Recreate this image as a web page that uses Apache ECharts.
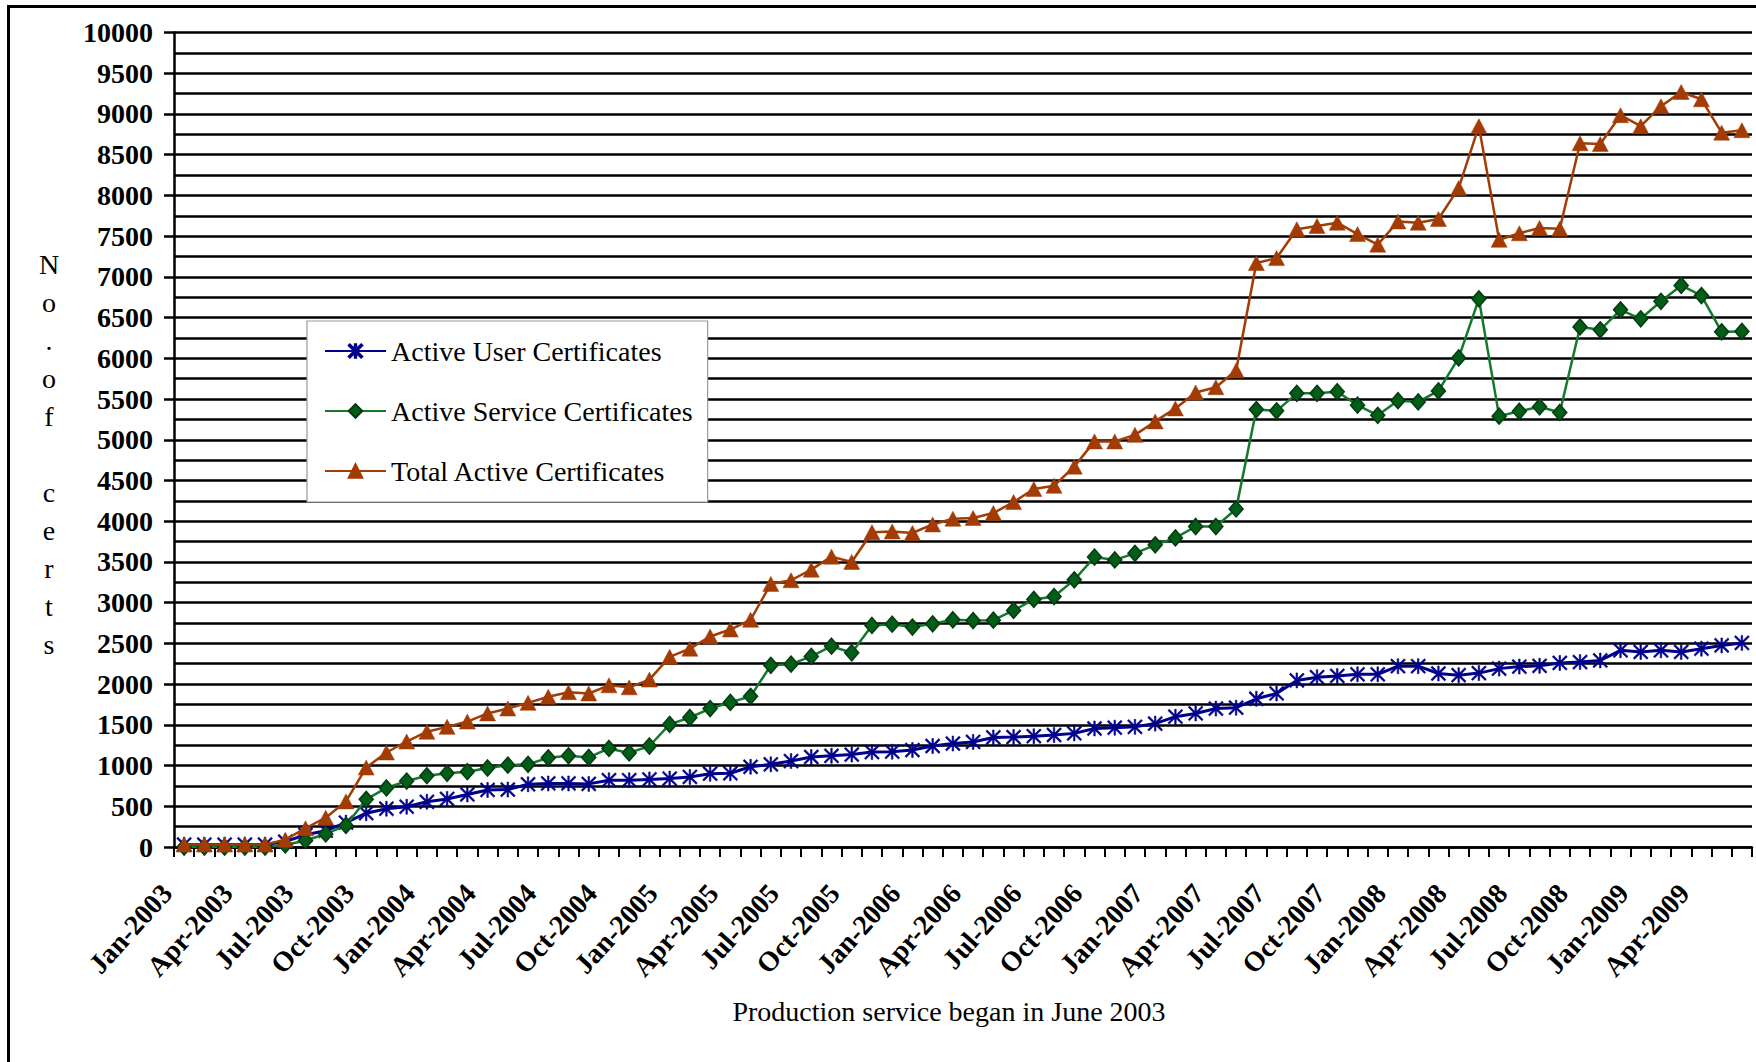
<!DOCTYPE html>
<html>
<head>
<meta charset="utf-8">
<title>Active certificates</title>
<script src="https://cdn.jsdelivr.net/npm/echarts@6/dist/echarts.min.js"></script>
<style>
  html, body { margin: 0; padding: 0; background: #ffffff; }
  #chart { width: 1756px; height: 1062px; }
</style>
</head>
<body>
<div id="chart"></div>
<script>
// Monthly counts, Jan-2003 .. Jun-2009
const months = [
  'Jan-2003','Feb-2003','Mar-2003','Apr-2003','May-2003','Jun-2003','Jul-2003','Aug-2003','Sep-2003','Oct-2003','Nov-2003','Dec-2003',
  'Jan-2004','Feb-2004','Mar-2004','Apr-2004','May-2004','Jun-2004','Jul-2004','Aug-2004','Sep-2004','Oct-2004','Nov-2004','Dec-2004',
  'Jan-2005','Feb-2005','Mar-2005','Apr-2005','May-2005','Jun-2005','Jul-2005','Aug-2005','Sep-2005','Oct-2005','Nov-2005','Dec-2005',
  'Jan-2006','Feb-2006','Mar-2006','Apr-2006','May-2006','Jun-2006','Jul-2006','Aug-2006','Sep-2006','Oct-2006','Nov-2006','Dec-2006',
  'Jan-2007','Feb-2007','Mar-2007','Apr-2007','May-2007','Jun-2007','Jul-2007','Aug-2007','Sep-2007','Oct-2007','Nov-2007','Dec-2007',
  'Jan-2008','Feb-2008','Mar-2008','Apr-2008','May-2008','Jun-2008','Jul-2008','Aug-2008','Sep-2008','Oct-2008','Nov-2008','Dec-2008',
  'Jan-2009','Feb-2009','Mar-2009','Apr-2009','May-2009','Jun-2009'
];

const userCerts = [
  30, 30, 30, 30, 30, 65, 150, 200, 300, 415, 470, 495,
  555, 590, 645, 700, 705, 770, 780, 780, 775, 820, 820, 830,
  840, 860, 900, 905, 985, 1015, 1055, 1105, 1120, 1135, 1165, 1170,
  1190, 1240, 1270, 1290, 1345, 1350, 1360, 1375, 1395, 1455, 1465, 1475,
  1515, 1600, 1640, 1700, 1710, 1820, 1885, 2045, 2085, 2100, 2120, 2120,
  2220, 2220, 2130, 2110, 2135, 2190, 2215, 2225, 2260, 2270, 2290, 2415,
  2395, 2415, 2395, 2435, 2475, 2505
];

const serviceCerts = [
  0, 0, 0, 0, 0, 25, 80, 160, 265, 585, 725, 810,
  875, 905, 925, 970, 1005, 1015, 1095, 1120, 1100, 1210, 1155, 1240,
  1505, 1590, 1700, 1775, 1850, 2230, 2245, 2340, 2465, 2385, 2720, 2735,
  2700, 2740, 2790, 2780, 2785, 2905, 3040, 3075, 3280, 3560, 3525, 3605,
  3710, 3795, 3935, 3935, 4150, 5370, 5355, 5570, 5570, 5590, 5425, 5300,
  5480, 5465, 5600, 6005, 6730, 5290, 5350, 5405, 5335, 6385, 6350, 6595,
  6485, 6700, 6895, 6770, 6325, 6330
];

const totalCerts = [
  30, 30, 30, 30, 30, 90, 230, 360, 560, 975, 1160, 1295,
  1415, 1475, 1540, 1640, 1700, 1770, 1845, 1900, 1885, 1985, 1960, 2055,
  2335, 2435, 2585, 2670, 2790, 3230, 3275, 3405, 3565, 3500, 3865, 3875,
  3855, 3960, 4030, 4040, 4100, 4235, 4395, 4435, 4670, 4980, 4980, 5060,
  5225, 5385, 5580, 5645, 5850, 7170, 7230, 7585, 7625, 7665, 7525, 7395,
  7680, 7665, 7710, 8090, 8850, 7455, 7535, 7600, 7590, 8640, 8630, 8985,
  8850, 9095, 9270, 9180, 8770, 8800
];

const seriesNames = ['Active User Certificates', 'Active Service Certificates', 'Total Active Certificates'];
const yAxisTitle = 'N\no\n.\no\nf\n\nc\ne\nr\nt\ns';
const xAxisTitle = 'Production service began in June 2003';

const SERIF = '"Liberation Serif", "Times New Roman", "DejaVu Serif", serif';

// asterisk marker: vertical bar plus two diagonals
const asterisk = 'path://M9 0L11 0L11 20L9 20Z' +
  'M0.15 1.85L1.85 0.15L19.85 18.15L18.15 19.85Z' +
  'M18.15 0.15L19.85 1.85L1.85 19.85L0.15 18.15Z';

const chart = echarts.init(document.getElementById('chart'), null, { renderer: 'svg' });

chart.setOption({
  backgroundColor: '#ffffff',
  animation: false,
  textStyle: { fontFamily: SERIF, color: '#000' },
  graphic: [
    {
      // outer frame of the figure
      type: 'rect',
      z: -10,
      silent: true,
      shape: { x: 8.5, y: 6.5, width: 1800, height: 1100 },
      style: { fill: 'none', stroke: '#000', lineWidth: 3 }
    },
    {
      // stacked y-axis title
      type: 'text',
      silent: true,
      x: 49,
      y: 454,
      style: {
        text: yAxisTitle,
        fontFamily: SERIF,
        fontSize: 28,
        lineHeight: 38,
        fill: '#000',
        align: 'center',
        verticalAlign: 'middle'
      }
    }
  ],
  grid: {
    left: 174, right: 4, top: 32.5, bottom: 215,
    containLabel: false,
    outerBoundsMode: 'none'
  },
  legend: {
    orient: 'vertical',
    left: 307, top: 321,
    padding: [15, 15, 16, 17],
    itemGap: 30,
    itemWidth: 61,
    itemHeight: 17,
    backgroundColor: '#ffffff',
    borderColor: '#9a9a9a',
    borderWidth: 1.2,
    textStyle: { fontFamily: SERIF, fontSize: 28, lineHeight: 30, color: '#000' },
    data: seriesNames
  },
  xAxis: {
    type: 'category',
    data: months,
    boundaryGap: true,
    name: xAxisTitle,
    nameLocation: 'middle',
    nameGap: 164,
    nameTextStyle: {
      fontFamily: SERIF, fontSize: 28, color: '#000',
      verticalAlign: 'middle', padding: [0, 28, 0, 0]
    },
    axisLine: { show: true, lineStyle: { color: '#000', width: 2.5 } },
    axisTick: { show: true, interval: 0, length: 10, lineStyle: { color: '#000', width: 2 } },
    axisLabel: {
      interval: 2,
      rotate: 48,
      margin: 22,
      padding: [0, 26, 0, 0],
      fontFamily: SERIF,
      fontWeight: 'bold',
      fontSize: 28,
      color: '#000'
    },
    splitLine: { show: false }
  },
  yAxis: {
    type: 'value',
    min: 0, max: 10000, interval: 500,
    axisLine: { show: true, lineStyle: { color: '#000', width: 2.5 } },
    axisTick: { show: true, inside: false, length: 10, lineStyle: { color: '#000', width: 2.5 } },
    minorTick: { show: false, splitNumber: 2 },
    axisLabel: {
      margin: 21,
      fontFamily: SERIF,
      fontWeight: 'bold',
      fontSize: 28,
      color: '#000',
      formatter: function (v) { return String(v); }
    },
    splitLine: { show: true, lineStyle: { color: '#000', width: 2.5 } },
    minorSplitLine: { show: true, lineStyle: { color: '#000', width: 2.5 } }
  },
  series: [
    {
      name: seriesNames[0],
      type: 'line',
      data: userCerts,
      symbol: asterisk,
      symbolSize: 15,
      showAllSymbol: true,
      lineStyle: { color: '#00008c', width: 3 },
      itemStyle: { color: '#00008c', borderColor: '#00008c', borderWidth: 0.6 },
      z: 3
    },
    {
      name: seriesNames[1],
      type: 'line',
      data: serviceCerts,
      symbol: 'diamond',
      symbolSize: [14, 16],
      showAllSymbol: true,
      lineStyle: { color: '#137a2c', width: 2.5 },
      itemStyle: { color: '#005e18', borderColor: '#063a10', borderWidth: 1.5 },
      z: 4
    },
    {
      name: seriesNames[2],
      type: 'line',
      data: totalCerts,
      symbol: 'triangle',
      symbolSize: [16, 15],
      showAllSymbol: true,
      lineStyle: { color: '#a33b05', width: 2.5 },
      itemStyle: { color: '#a33b05', borderColor: '#a33b05', borderWidth: 0.5 },
      z: 5
    }
  ]
});
</script>
</body>
</html>
